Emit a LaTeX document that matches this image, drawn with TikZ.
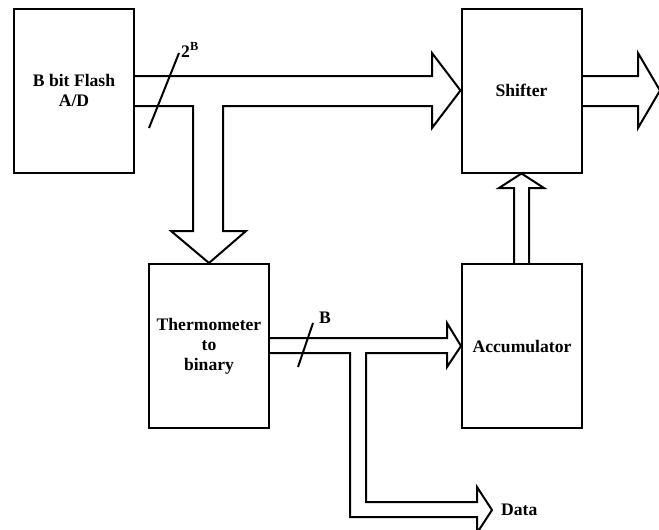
\documentclass[tikz,border=0pt]{standalone}
\usepackage{fontspec}
\setmainfont{Liberation Serif}
\usetikzlibrary{positioning}
\begin{document}
\begin{tikzpicture}[x=1pt, y=-1pt,
  box/.style={draw, line width=2pt, minimum width=120pt, minimum height=164pt, inner sep=0pt, align=center, font=\fontsize{17.6}{20}\selectfont\bfseries},
  bus/.style={draw, line width=2pt, line join=miter},
  tick/.style={line width=2pt},
  lbl/.style={inner sep=2pt, font=\fontsize{17.6}{20}\selectfont\bfseries}]
		\useasboundingbox (0,0) rectangle (659,530);
		\node[box] (flash) at (74,90.5) {B bit Flash\\A/D};
		\node[box] (shifter) at (521.5,90.5) {Shifter};
		\node[box] (therm) at (209,346) {Thermometer\\to\\binary};
		\node[box] (acc) at (522,346) {Accumulator};
		\coordinate (out) at (660,90.5);
		\coordinate (dtip) at (492,510);
		\node[lbl, right=7pt of dtip] (data) {Data};
		
		\draw[bus] (flash.east |- 0,76) -- (432,76) -- (432,53) -- (shifter.west) -- (432,128) -- (432,106)
			-- (223,106) -- (223,231) -- (246,231) -- (therm.north) -- (171,231) -- (193,231) -- (193,106) -- (flash.east |- 0,106);
		\draw[bus] (shifter.east |- 0,76) -- (638,76) -- (638,53) -- (out) -- (638,128) -- (638,106) -- (shifter.east |- 0,106);
		\draw[bus] (therm.east |- 0,338) -- (447,338) -- (447,323) -- (acc.west) -- (447,367) -- (447,353)
			-- (366,353) -- (366,502) -- (477,502) -- (477,487) -- (dtip) -- (477,533) -- (477,517) -- (350,517) -- (350,353) -- (therm.east |- 0,353);
		\draw[bus] (acc.north -| 514,0) -- (514,188) -- (499,188) -- (shifter.south) -- (544,188) -- (529,188) -- (acc.north -| 529,0);
		
		\draw[tick] (149,128) -- (179,53);
		\node[lbl] (wtop) at (190,50) {2\textsuperscript{B}};
		\draw[tick] (298,367) -- (313,323);
		\node[lbl] (wbot) at (325,318) {B};
		\end{tikzpicture}
\end{document}
